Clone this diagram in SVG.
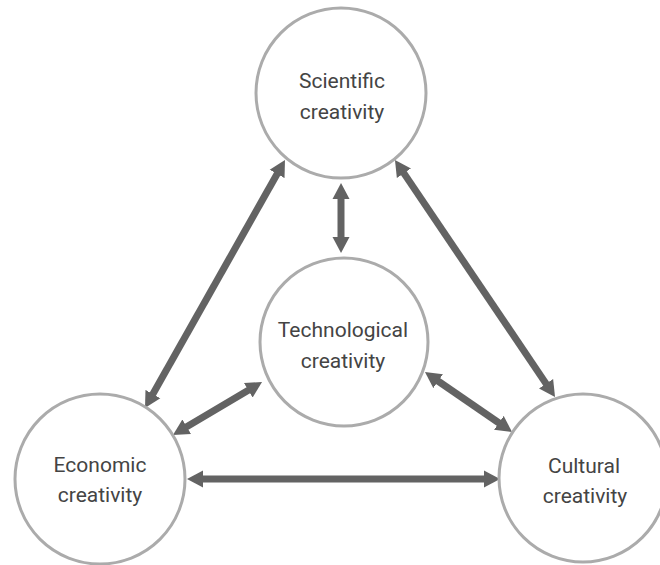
<svg xmlns="http://www.w3.org/2000/svg" width="660" height="565" viewBox="0 0 660 565">
<style>
.node circle{fill:#fff;stroke:#ababab;stroke-width:3}
.node text{font-family:Roboto,"Liberation Sans",sans-serif;font-size:21px;fill:#444;text-anchor:middle}
.conn line{stroke:#636363;stroke-width:7;marker-start:url(#ah);marker-end:url(#ah)}
</style>
<defs>
<marker id="ah" markerUnits="userSpaceOnUse" markerWidth="18" markerHeight="18" refX="2" refY="9" orient="auto-start-reverse" viewBox="0 0 18 18">
<path d="M0,0.5 L16,9 L0,17.5 z" fill="#636363"/>
</marker>
</defs>
<rect width="660" height="565" fill="#fff"/>
<g id="connectors" class="conn">
<line x1="341" y1="197" x2="341" y2="239"/>
<line x1="278.1" y1="172.2" x2="151.9" y2="395.8"/>
<line x1="402.8" y1="171.6" x2="547.2" y2="385.4"/>
<line x1="250" y1="389.2" x2="185" y2="427.8"/>
<line x1="436.5" y1="380" x2="500.5" y2="424"/>
<line x1="201" y1="479" x2="486" y2="479"/>
</g>
<g id="scientific" class="node">
<circle cx="341" cy="93" r="85"/>
<text x="342" y="88">Scientific</text>
<text x="342" y="119">creativity</text>
</g>
<g id="technological" class="node">
<circle cx="344" cy="342" r="84"/>
<text x="343" y="337">Technological</text>
<text x="343" y="368">creativity</text>
</g>
<g id="economic" class="node">
<circle cx="100" cy="479" r="85"/>
<text x="100" y="472">Economic</text>
<text x="100" y="502">creativity</text>
</g>
<g id="cultural" class="node">
<circle cx="583" cy="478" r="84"/>
<text x="584" y="473">Cultural</text>
<text x="585" y="503">creativity</text>
</g>
</svg>
